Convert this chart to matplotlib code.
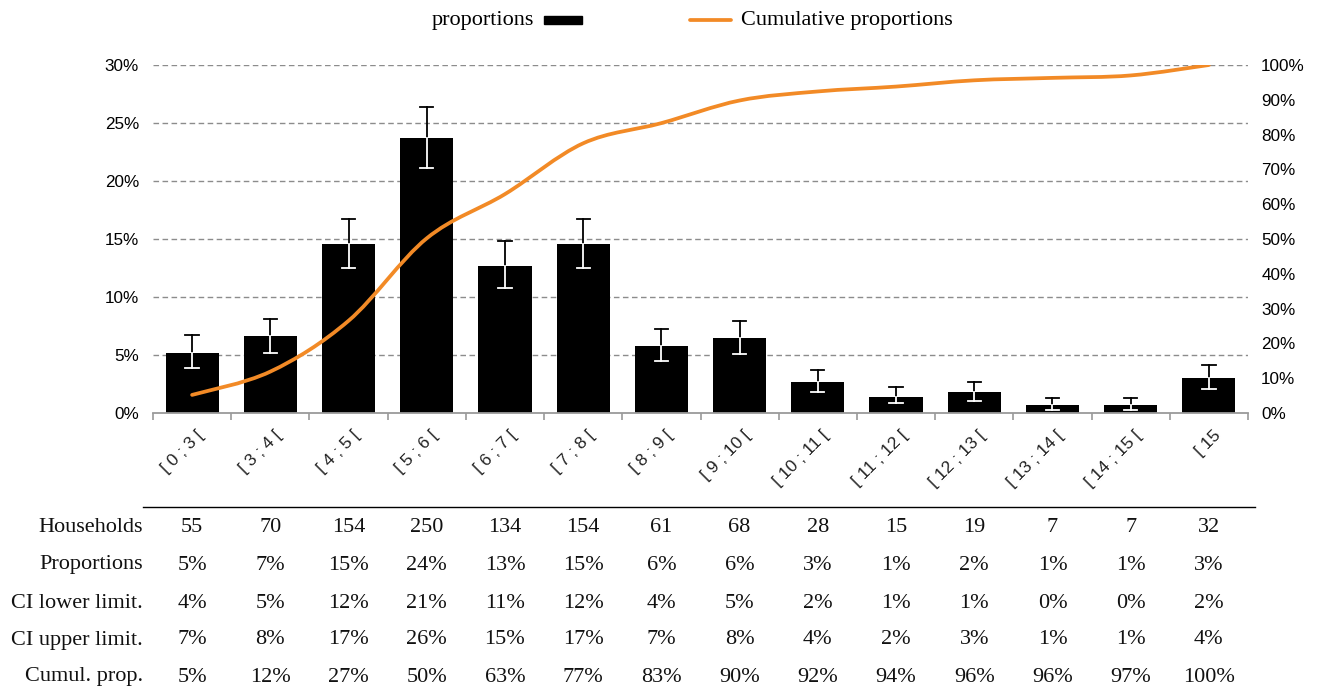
import matplotlib
matplotlib.use("Agg")
import matplotlib.pyplot as plt
import numpy as np
from matplotlib.path import Path
from matplotlib.patches import PathPatch, Rectangle
from matplotlib.lines import Line2D
import matplotlib.transforms as mtransforms

categories = ["[ 0 ; 3 [", "[ 3 ; 4 [", "[ 4 ; 5 [", "[ 5 ; 6 [", "[ 6 ; 7 [", "[ 7 ; 8 [",
              "[ 8 ; 9 [", "[ 9 ; 10 [", "[ 10 ; 11 [", "[ 11 ; 12 [", "[ 12 ; 13 [",
              "[ 13 ; 14 [", "[ 14 ; 15 [", "[ 15"]
households = [55, 70, 154, 250, 134, 154, 61, 68, 28, 15, 19, 7, 7, 32]
proportions = [0.052, 0.066, 0.146, 0.237, 0.127, 0.146, 0.058, 0.065, 0.027, 0.014, 0.018, 0.007, 0.007, 0.030]
ci_low = [0.039, 0.052, 0.125, 0.211, 0.108, 0.125, 0.045, 0.051, 0.018, 0.009, 0.010, 0.003, 0.003, 0.021]
ci_high = [0.067, 0.081, 0.167, 0.264, 0.148, 0.167, 0.072, 0.079, 0.037, 0.022, 0.027, 0.013, 0.013, 0.041]
cumulative = [0.052, 0.119, 0.265, 0.502, 0.629, 0.775, 0.833, 0.898, 0.924, 0.938, 0.956, 0.963, 0.970, 1.000]

row_labels = ["Households", "Proportions", "CI lower limit.", "CI upper limit.", "Cumul. prop."]
row_prop = ["5%", "7%", "15%", "24%", "13%", "15%", "6%", "6%", "3%", "1%", "2%", "1%", "1%", "3%"]
row_low = ["4%", "5%", "12%", "21%", "11%", "12%", "4%", "5%", "2%", "1%", "1%", "0%", "0%", "2%"]
row_high = ["7%", "8%", "17%", "26%", "15%", "17%", "7%", "8%", "4%", "2%", "3%", "1%", "1%", "4%"]
row_cum = ["5%", "12%", "27%", "50%", "63%", "77%", "83%", "90%", "92%", "94%", "96%", "96%", "97%", "100%"]

W, H = 1317, 689
fig = plt.figure(figsize=(W / 100, H / 100), dpi=100)
ax = fig.add_axes([153 / W, 1 - 413 / H, (1248 - 153) / W, (413 - 65) / H])
ax2 = ax.twinx()

sans = ["Liberation Sans", "DejaVu Sans"]
serif = ["Liberation Serif", "DejaVu Serif"]
orange = "#F28A26"
x = np.arange(len(categories))

ax.set_xlim(-0.5, len(categories) - 0.5)
ax.set_ylim(0, 0.30)
ax2.set_ylim(0, 1.0)

# grid
for v in np.arange(0.05, 0.301, 0.05):
    ax.axhline(v, color="#8c8c8c", lw=1.0, ls=(0, (4, 2.5)), zorder=0)

ax.bar(x, proportions, width=0.68, color="black", zorder=2)

# error bars: black outside, white inside bars
cap = 0.085
for xi, p, lo, hi in zip(x, proportions, ci_low, ci_high):
    ax.plot([xi, xi], [lo, hi], color="black", lw=1.3, zorder=3)
    ax.plot([xi - cap, xi + cap], [hi, hi], color="black" if hi > p else "white", lw=1.3, zorder=3)
    ax.plot([xi, xi], [lo, min(hi, p)], color="white", lw=1.3, zorder=3)
    ax.plot([xi - cap, xi + cap], [lo, lo], color="white" if lo < p else "black", lw=1.3, zorder=3)

# smooth cumulative line (Catmull-Rom to Bezier)
pts = np.column_stack([x, cumulative])
verts = [tuple(pts[0])]
codes = [Path.MOVETO]
n = len(pts)
for i in range(n - 1):
    p0 = pts[i - 1] if i > 0 else pts[i]
    p1 = pts[i]
    p2 = pts[i + 1]
    p3 = pts[i + 2] if i + 2 < n else pts[i + 1]
    c1 = p1 + (p2 - p0) / 6.0
    c2 = p2 - (p3 - p1) / 6.0
    verts += [tuple(c1), tuple(c2), tuple(p2)]
    codes += [Path.CURVE4] * 3
ax2.add_patch(PathPatch(Path(verts, codes), fill=False, edgecolor=orange, lw=2.7,
                        capstyle="round", zorder=4))

# axes styling
for s in ["top", "left", "right"]:
    ax.spines[s].set_visible(False)
    ax2.spines[s].set_visible(False)
ax.spines["bottom"].set_color("#9a9a9a")
ax.spines["bottom"].set_linewidth(1.3)
ax2.spines["bottom"].set_visible(False)
ax.set_xticks(np.arange(-0.5, len(categories), 1.0))
ax.set_xticklabels([])
ax.tick_params(axis="x", direction="out", length=5, width=1.2, color="#9a9a9a")
ax.set_yticks(np.arange(0, 0.301, 0.05))
ax.set_yticklabels([f"{int(round(v * 100))}%" for v in np.arange(0, 0.301, 0.05)],
                   fontfamily=sans, fontsize=12.3)
ax.tick_params(axis="y", length=0, pad=10)
ax2.set_yticks(np.arange(0, 1.001, 0.1))
ax2.set_yticklabels([f"{int(round(v * 100))}%" for v in np.arange(0, 1.001, 0.1)],
                    fontfamily=sans, fontsize=12.3)
ax2.tick_params(axis="y", length=0, pad=9.5)

# rotated category labels
trans = mtransforms.blended_transform_factory(ax.transData, ax.transAxes) + \
    mtransforms.ScaledTranslation(9 / 100, -20 / 100, fig.dpi_scale_trans)
for xi, c in zip(x, categories):
    ax.text(xi, 0, c, transform=trans, rotation=45, rotation_mode="anchor",
            ha="right", va="center", fontfamily=sans, fontsize=12.5, color="#222222")

# table
fig.add_artist(Line2D([143 / W, 1255 / W], [1 - 507 / H, 1 - 507 / H], color="black", lw=1.0))
rows = [[str(h) for h in households], row_prop, row_low, row_high, row_cum]
row_y = [528, 565, 603, 640, 677]
xfig = [(153 + (i + 0.5) * (1248 - 153) / len(categories)) / W for i in range(len(categories))]
for lab, vals, yy in zip(row_labels, rows, row_y):
    fig.text(143 / W, 1 - yy / H, lab, ha="right", va="center", fontfamily=serif, fontsize=16, color="#111111")
    for xf, v in zip(xfig, vals):
        fig.text(xf, 1 - yy / H, v, ha="center", va="center", fontfamily=serif, fontsize=16, color="#111111")

# legend
fig.text(534 / W, 1 - 20 / H, "proportions", ha="right", va="center", fontfamily=serif, fontsize=16)
fig.add_artist(Rectangle((544 / W, 1 - 24 / H), 38 / W, 8 / H, color="black", transform=fig.transFigure))
fig.add_artist(Line2D([690 / W, 731 / W], [1 - 20 / H, 1 - 20 / H], color=orange, lw=2.7,
                      solid_capstyle="round"))
fig.text(741 / W, 1 - 20 / H, "Cumulative proportions", ha="left", va="center", fontfamily=serif, fontsize=16)

fig.savefig("out.png", dpi=100)
